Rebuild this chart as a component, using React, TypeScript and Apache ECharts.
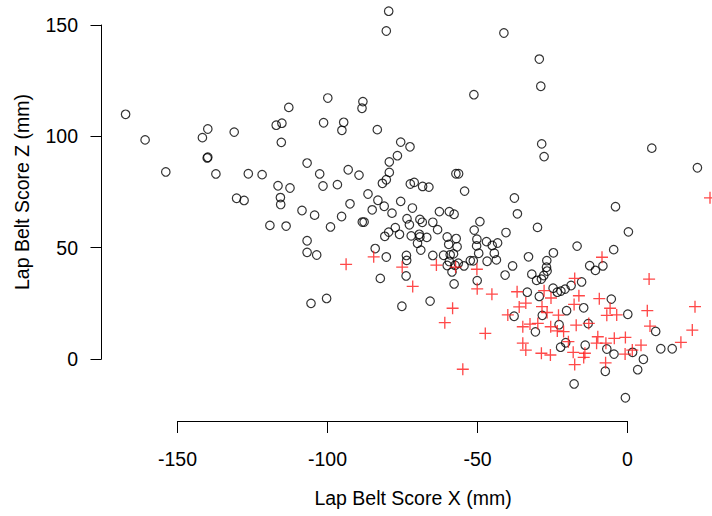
import React, { useEffect, useRef } from "react";
import * as echarts from "echarts";

// Points marked with open circles: [Lap Belt Score X, Lap Belt Score Z] (mm)
const circlePoints: [number, number][] = [
  [-167.3, 109.9], [-160.8, 98.4], [-153.9, 84.0], [-141.7, 99.4], [-139.9, 103.3], [-131.1, 101.9],
  [-140.1, 90.3], [-139.9, 90.6], [-137.2, 83.1], [-130.3, 72.2], [-127.8, 71.2], [-126.4, 83.2],
  [-121.8, 82.8], [-115.4, 97.3], [-117.1, 105.0], [-115.2, 105.9], [-112.9, 113.0], [-106.8, 88.0],
  [-102.6, 83.1], [-101.3, 106.1], [-99.9, 117.2], [-94.6, 106.3], [-95.2, 102.7], [-93.1, 85.0],
  [-89.5, 82.6], [-88.2, 115.6], [-88.5, 112.6], [-83.4, 103.0], [-79.6, 156.2], [-80.4, 147.3],
  [-116.5, 77.8], [-112.5, 76.8], [-101.5, 77.7], [-96.7, 78.3], [-81.7, 78.9], [-115.7, 72.5],
  [-115.6, 69.4], [-108.5, 66.7], [-104.3, 64.6], [-92.5, 69.7], [-86.5, 74.1], [-83.2, 71.3],
  [-85.1, 67.0], [-95.3, 64.0], [-88.4, 61.5], [-87.8, 61.5], [-99.0, 59.3], [-119.2, 60.0],
  [-113.8, 59.7], [-106.8, 53.1], [-106.8, 47.9], [-103.6, 46.7], [-84.1, 49.6], [-82.4, 36.2],
  [-105.5, 25.0], [-100.3, 27.2], [-79.4, 88.5], [-76.7, 91.3], [-75.6, 97.4], [-72.5, 95.3],
  [-79.4, 83.8], [-80.4, 80.5], [-72.4, 78.6], [-71.1, 79.3], [-68.3, 77.5], [-66.2, 77.2],
  [-57.2, 83.2], [-56.3, 83.2], [-54.3, 75.4], [-51.2, 118.7], [-75.6, 70.8], [-81.1, 68.6],
  [-78.5, 65.5], [-71.7, 67.8], [-62.7, 66.2], [-59.4, 66.2], [-57.8, 65.0], [-73.5, 63.0],
  [-72.7, 60.3], [-69.2, 62.7], [-68.4, 61.4], [-64.9, 61.4], [-63.3, 58.1], [-77.4, 59.0],
  [-79.6, 57.0], [-80.9, 55.1], [-76.0, 56.0], [-72.1, 55.3], [-69.4, 56.0], [-69.2, 54.8],
  [-66.9, 54.6], [-70.0, 52.0], [-68.9, 48.9], [-60.1, 54.8], [-57.1, 54.1], [-59.6, 51.5],
  [-56.8, 50.4], [-51.1, 57.9], [-49.2, 61.7], [-50.2, 53.8], [-50.3, 50.8], [-47.0, 52.7],
  [-45.1, 51.0], [-43.3, 52.1], [-44.4, 47.5], [-40.5, 56.8], [-49.6, 47.5], [-52.4, 44.2],
  [-51.4, 44.1], [-46.8, 43.9], [-43.7, 44.5], [-73.7, 46.5], [-73.6, 44.3], [-64.9, 46.5],
  [-61.3, 46.6], [-59.1, 46.8], [-58.0, 47.2], [-60.1, 42.0], [-59.4, 43.8], [-57.5, 42.1],
  [-56.4, 43.0], [-54.5, 41.8], [-58.5, 39.1], [-57.8, 33.7], [-50.1, 35.2], [-65.8, 26.0],
  [-75.2, 23.7], [-73.8, 37.3], [-80.4, 45.8], [-38.3, 41.8], [-40.8, 37.7], [-33.0, 45.9],
  [-26.9, 44.2], [-27.0, 41.2], [-26.8, 39.5], [-27.9, 37.5], [-28.7, 35.9], [-30.3, 35.3],
  [-31.9, 38.1], [-24.7, 47.7], [-24.8, 31.8], [-23.4, 30.0], [-22.2, 30.5], [-20.8, 31.4],
  [-18.8, 33.0], [-33.4, 30.0], [-29.4, 28.1], [-20.3, 21.7], [-28.4, 19.6], [-37.8, 19.2],
  [-22.8, 15.4], [-30.7, 12.2], [-20.6, 7.3], [-22.3, 5.3], [-17.8, -11.2], [-37.7, 72.3],
  [-36.7, 65.2], [-30.0, 59.1], [-41.2, 146.4], [-29.4, 134.7], [-28.9, 122.5], [-28.6, 96.6],
  [-27.8, 90.9], [8.1, 94.7], [23.3, 85.9], [-4.0, 68.4], [0.3, 57.1], [-16.8, 50.7],
  [-4.6, 49.1], [-12.6, 41.9], [-8.2, 41.8], [-10.7, 39.8], [-15.3, 34.6], [-5.4, 26.9],
  [-14.6, 23.0], [0.1, 20.1], [-13.1, 15.9], [9.4, 12.4], [-14.1, 6.2], [-6.9, 4.5],
  [-4.5, 2.2], [1.7, 3.0], [11.1, 4.6], [14.9, 4.6], [5.3, -0.1], [3.4, -4.8],
  [-7.4, -5.5], [-0.7, -17.4],
];

// Points marked with red plus signs
const plusPoints: [number, number][] = [
  [-93.8, 42.5], [-84.6, 45.9], [-75.1, 41.3], [-71.6, 32.6], [-63.7, 42.2], [-57.3, 41.3],
  [-58.3, 22.8], [-60.9, 16.3], [-54.9, -4.6], [-50.2, 40.3], [-50.1, 31.5], [-45.2, 29.1],
  [-47.4, 11.5], [-36.8, 30.2], [-33.9, 25.1], [-36.1, 23.4], [-39.9, 19.8], [-34.9, 14.5],
  [-32.5, 15.7], [-29.9, 16.0], [-28.5, 23.5], [-25.5, 27.4], [-27.8, 30.7], [-26.8, 20.9],
  [-23.0, 19.7], [-17.6, 36.2], [-17.8, 24.5], [-17.1, 15.2], [-25.6, 14.5], [-23.4, 12.6],
  [-21.3, 12.3], [-19.7, 7.8], [-34.9, 7.1], [-33.9, 4.0], [-28.7, 2.6], [-25.7, 1.8],
  [-18.1, 3.0], [-17.6, -2.5], [-16.2, 28.4], [-9.4, 27.1], [-8.5, 45.7], [-5.8, 22.8],
  [7.2, 35.9], [-6.9, 19.6], [-3.6, 19.8], [6.6, 21.7], [22.5, 23.5], [-12.9, 16.0],
  [7.5, 14.8], [21.6, 13.0], [-9.9, 10.0], [-4.4, 9.3], [-0.7, 9.7], [17.8, 7.5],
  [-10.3, 7.1], [-7.2, 7.1], [4.5, 6.2], [1.6, 4.0], [-14.2, 2.6], [-14.6, 0.7],
  [-0.8, 2.2], [-7.3, -1.7], [27.5, 72.4],
];

const xTicks = [-150, -100, -50, 0];
const yTicks = [0, 50, 100, 150];
const xTitle = "Lap Belt Score X (mm)";
const yTitle = "Lap Belt Score Z (mm)";

const FONT = "'Liberation Sans', Arial, Helvetica, sans-serif";
const PLUS_PATH =
  "path://M44.5,0H55.5V44.5H100V55.5H55.5V100H44.5V55.5H0V44.5H44.5Z";

export default function App() {
  const ref = useRef<HTMLDivElement>(null);

  useEffect(() => {
    if (!ref.current) return;
    const chart = echarts.init(ref.current, undefined, { renderer: "svg" });
    const axisStyle = { color: "#000", width: 1 };
    const option: any = {
      animation: false,
      backgroundColor: "#fff",
      grid: [
        { left: 99.5, top: 0.5, width: 612, height: 416.4 },
        { left: 177.5, top: 0, width: 450, height: 421 },
        { left: 101.5, top: 25, width: 100, height: 334 },
      ],
      xAxis: [
        { gridIndex: 0, type: "value", min: -176, max: 28, show: false },
        {
          gridIndex: 1,
          type: "value",
          min: xTicks[0],
          max: xTicks[xTicks.length - 1],
          interval: 50,
          axisLine: { show: true, onZero: false, lineStyle: axisStyle },
          axisTick: { show: true, length: 12, lineStyle: axisStyle },
          axisLabel: {
            show: true,
            fontSize: 19.5,
            fontFamily: FONT,
            color: "#000",
            margin: 28,
            showMinLabel: true,
            showMaxLabel: true,
          },
          splitLine: { show: false },
        },
        { gridIndex: 2, type: "value", show: false },
      ],
      yAxis: [
        { gridIndex: 0, type: "value", min: -26, max: 161, show: false },
        { gridIndex: 1, type: "value", show: false },
        {
          gridIndex: 2,
          type: "value",
          min: yTicks[0],
          max: yTicks[yTicks.length - 1],
          interval: 50,
          axisLine: { show: true, onZero: false, lineStyle: axisStyle },
          axisTick: { show: true, length: 11, lineStyle: axisStyle },
          axisLabel: {
            show: true,
            fontSize: 19.5,
            fontFamily: FONT,
            color: "#000",
            margin: 23.5,
            showMinLabel: true,
            showMaxLabel: true,
          },
          splitLine: { show: false },
        },
      ],
      graphic: [
        {
          type: "text",
          x: 413,
          y: 498,
          style: {
            text: xTitle,
            fontSize: 19.5,
            fontFamily: FONT,
            fill: "#000",
            align: "center",
            verticalAlign: "middle",
          },
        },
        {
          type: "text",
          x: 22,
          y: 192,
          rotation: Math.PI / 2,
          style: {
            text: yTitle,
            fontSize: 19.5,
            fontFamily: FONT,
            fill: "#000",
            align: "center",
            verticalAlign: "middle",
          },
        },
      ],
      series: [
        {
          type: "scatter",
          xAxisIndex: 0,
          yAxisIndex: 0,
          data: circlePoints,
          symbol: "circle",
          symbolSize: 8.5,
          clip: false,
          itemStyle: { color: "rgba(0,0,0,0)", borderColor: "#000", borderWidth: 1.2 },
          emphasis: { disabled: true },
        },
        {
          type: "scatter",
          xAxisIndex: 0,
          yAxisIndex: 0,
          data: plusPoints,
          symbol: PLUS_PATH,
          symbolSize: 12,
          clip: false,
          itemStyle: { color: "#ff1a1a", borderWidth: 0 },
          emphasis: { disabled: true },
        },
      ],
    };
    chart.setOption(option);
    return () => chart.dispose();
  }, []);

  return (
    <div
      ref={ref}
      style={{ position: "absolute", left: 0, top: 0, width: 712, height: 516 }}
    />
  );
}
